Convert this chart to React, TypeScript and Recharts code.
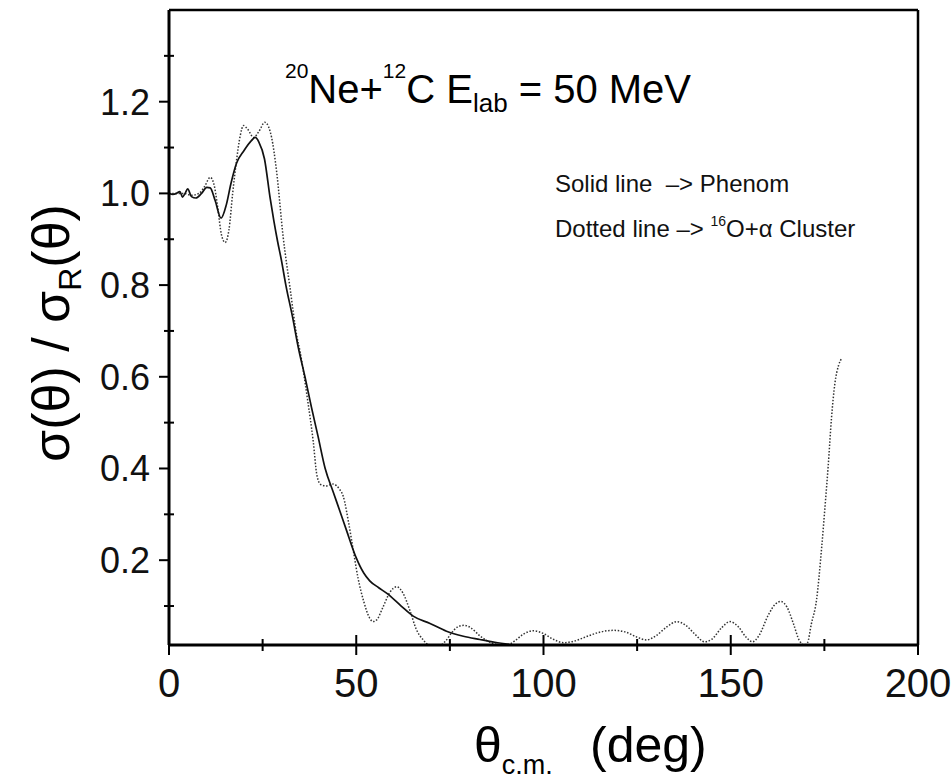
import React from 'react';
import { LineChart, Line, XAxis, YAxis, ReferenceLine } from 'recharts';

// Phenomenological (solid) curve
const phenomAngle = [0, 1, 2, 2.9, 3.6, 4.3, 5, 6, 7.2, 8.7, 10.1, 11, 12.3, 13.9, 15.3, 16.5, 18, 20, 22, 23, 24, 25.5, 27, 28, 29, 30, 31.2, 33, 34.5, 36.3, 38, 39.8, 41.7, 43.8, 45.5, 47.4, 50, 52, 53.6, 56, 58.1, 62, 65.2, 69.7, 74.1, 78.6, 83, 87, 91];
const phenomRatio = [1.0, 0.998, 1.0, 1.004, 0.992, 1.0, 1.01, 0.993, 0.99, 1.0, 1.013, 1.012, 0.985, 0.946, 0.975, 1.02, 1.065, 1.093, 1.115, 1.122, 1.112, 1.075, 0.99, 0.94, 0.895, 0.855, 0.8, 0.73, 0.665, 0.6, 0.535, 0.47, 0.4, 0.35, 0.31, 0.265, 0.205, 0.172, 0.155, 0.14, 0.128, 0.1, 0.078, 0.062, 0.045, 0.034, 0.027, 0.021, 0.016];

// 16O+alpha cluster (dotted) curve
const clusterAngle = [0, 2, 4, 6, 8, 9.5, 11, 12, 13, 14, 15, 16, 17, 18, 19, 19.9, 21, 22.6, 24, 25.6, 26.6, 27.4, 28.7, 30.5, 32.3, 34.1, 35, 37, 38.5, 39.5, 40.5, 42, 43.8, 45.5, 46.5, 48, 49.2, 50.5, 52, 53.5, 54.5, 55.5, 57, 59, 60.8, 62.5, 64.3, 66, 67.9, 69.5, 72.4, 74, 75.5, 77, 78.8, 80.5, 83, 86, 89, 90.5, 92.5, 94.5, 97.3, 100, 102.5, 105.3, 108, 112, 115, 118.7, 122, 125, 127.5, 130, 133, 135.6, 138, 140.5, 143, 145, 147.5, 149.8, 152, 154, 155.8, 157.5, 160, 162, 163.4, 165, 166.8, 168.3, 169.7, 170.5, 171.5, 172.9, 174.3, 175.3, 176, 176.9, 177.8, 178.8, 179.6];
const clusterRatio = [1.0, 1.0, 1.0, 0.996, 1.0, 1.015, 1.035, 1.02, 0.97, 0.91, 0.893, 0.92, 1.0, 1.07, 1.125, 1.148, 1.14, 1.122, 1.135, 1.155, 1.145, 1.122, 1.05, 0.904, 0.795, 0.69, 0.655, 0.55, 0.46, 0.385, 0.365, 0.362, 0.366, 0.355, 0.34, 0.28, 0.222, 0.16, 0.11, 0.075, 0.066, 0.07, 0.095, 0.13, 0.142, 0.128, 0.091, 0.05, 0.026, 0.015, 0.015, 0.025, 0.042, 0.054, 0.058, 0.053, 0.035, 0.02, 0.015, 0.016, 0.025, 0.038, 0.046, 0.04, 0.028, 0.02, 0.023, 0.035, 0.043, 0.047, 0.043, 0.032, 0.026, 0.035, 0.055, 0.066, 0.058, 0.038, 0.022, 0.028, 0.052, 0.066, 0.055, 0.033, 0.022, 0.035, 0.08, 0.105, 0.11, 0.098, 0.06, 0.025, 0.015, 0.02, 0.06, 0.113, 0.23, 0.33, 0.403, 0.51, 0.585, 0.625, 0.64];

const xTicks = [0, 25, 50, 75, 100, 125, 150, 175, 200];
const xMajorTicks = [0, 50, 100, 150, 200];
const yTicks = [0.1, 0.2, 0.3, 0.4, 0.5, 0.6, 0.7, 0.8, 0.9, 1.0, 1.1, 1.2, 1.3];
const yMajorTicks = [0.2, 0.4, 0.6, 0.8, 1.0, 1.2];
const xDomain = [0, 200];
const yDomain = [0.015, 1.4];

const FONT = "'Liberation Sans', Arial, Helvetica, sans-serif";

const phenomData = phenomAngle.map((x, i) => ({ x, y: phenomRatio[i] }));
const clusterData = clusterAngle.map((x, i) => ({ x, y: clusterRatio[i] }));

const isMajor = (list: number[], v: number) => list.some((m) => Math.abs(m - v) < 1e-6);

const YTick = (props: any) => {
  const { x, y, payload } = props;
  const v = payload.value;
  const major = isMajor(yMajorTicks, v);
  return (
    <g>
      {major ? (
        <line x1={x - 10} x2={x} y1={y} y2={y} stroke="#000" strokeWidth={2} />
      ) : (
        <line x1={x - 5} x2={x + 5} y1={y} y2={y} stroke="#000" strokeWidth={2} />
      )}
      {major && (
        <text x={x - 19} y={y + 13} textAnchor="end" fontSize={36} fontFamily={FONT} fill="#111">
          {v.toFixed(1)}
        </text>
      )}
    </g>
  );
};

const XTick = (props: any) => {
  const { x, y, payload } = props;
  const v = payload.value;
  const major = isMajor(xMajorTicks, v);
  return (
    <g>
      {major ? (
        <line x1={x} x2={x} y1={y - 10} y2={y + 10} stroke="#000" strokeWidth={2} />
      ) : (
        <line x1={x} x2={x} y1={y - 6} y2={y + 6} stroke="#000" strokeWidth={2} />
      )}
      {major && (
        <text x={x} y={y + 52} textAnchor="middle" fontSize={40} fontFamily={FONT} fill="#111">
          {String(v)}
        </text>
      )}
    </g>
  );
};

export default function App() {
  return (
    <div style={{ position: 'absolute', left: 0, top: 0, width: 952, height: 779, background: '#fff' }}>
      <LineChart width={952} height={779} margin={{ top: 10, right: 34, bottom: 0, left: 0 }}>
        <XAxis
          type="number"
          dataKey="x"
          domain={xDomain}
          ticks={xTicks}
          interval={0}
          tickSize={0}
          tickMargin={0}
          tickLine={false}
          tick={<XTick />}
          axisLine={{ stroke: '#000', strokeWidth: 3 }}
          height={134}
          allowDataOverflow
        />
        <YAxis
          type="number"
          domain={yDomain}
          ticks={yTicks}
          interval={0}
          tickSize={0}
          tickMargin={0}
          tickLine={false}
          tick={<YTick />}
          axisLine={{ stroke: '#000', strokeWidth: 3 }}
          width={169}
          allowDataOverflow
        />
        <ReferenceLine y={yDomain[1]} stroke="#000" strokeWidth={2.5} />
        <ReferenceLine x={xDomain[1]} stroke="#000" strokeWidth={2.5} />
        <Line
          data={clusterData}
          dataKey="y"
          type="monotone"
          stroke="#333"
          strokeWidth={1.5}
          strokeDasharray="1.5 1.7"
          dot={false}
          activeDot={false}
          isAnimationActive={false}
        />
        <Line
          data={phenomData}
          dataKey="y"
          type="monotone"
          stroke="#111"
          strokeWidth={1.7}
          dot={false}
          activeDot={false}
          isAnimationActive={false}
        />
      </LineChart>
      <svg
        width={952}
        height={779}
        style={{ position: 'absolute', left: 0, top: 0, pointerEvents: 'none' }}
        fontFamily={FONT}
      >
        {/* Title */}
        <text x={285} y={103} fontSize={40} fill="#000">
          <tspan fontSize={21} dy={-25}>20</tspan>
          <tspan fontSize={40} dy={25}>Ne+</tspan>
          <tspan fontSize={21} dy={-25}>12</tspan>
          <tspan fontSize={40} dy={25}>C E</tspan>
          <tspan fontSize={26} dy={9}>lab</tspan>
          <tspan fontSize={40} dy={-9}> = 50 MeV</tspan>
        </text>
        {/* Legend notes */}
        <text x={555} y={192} fontSize={24} fill="#111">Solid line{'\u00a0\u00a0'}–&gt; Phenom</text>
        <text x={555} y={237} fontSize={24} fill="#111">
          <tspan>Dotted line –&gt;{'\u00a0'}</tspan>
          <tspan fontSize={14} dy={-11}>16</tspan>
          <tspan fontSize={24} dy={11}>O+α Cluster</tspan>
        </text>
        {/* Y axis title */}
        <text transform="translate(69,333) rotate(-90)" textAnchor="middle" fontSize={52} fill="#000">
          <tspan>σ(θ) / σ</tspan>
          <tspan fontSize={32} dy={12}>R</tspan>
          <tspan fontSize={52} dy={-12}>(θ)</tspan>
        </text>
        {/* X axis title */}
        <text x={474} y={762} fontSize={50} fill="#000">
          <tspan>θ</tspan>
          <tspan fontSize={27} dy={12}>c.m.</tspan>
          <tspan fontSize={50} dy={-12} x={590}>(deg)</tspan>
        </text>
      </svg>
    </div>
  );
}
